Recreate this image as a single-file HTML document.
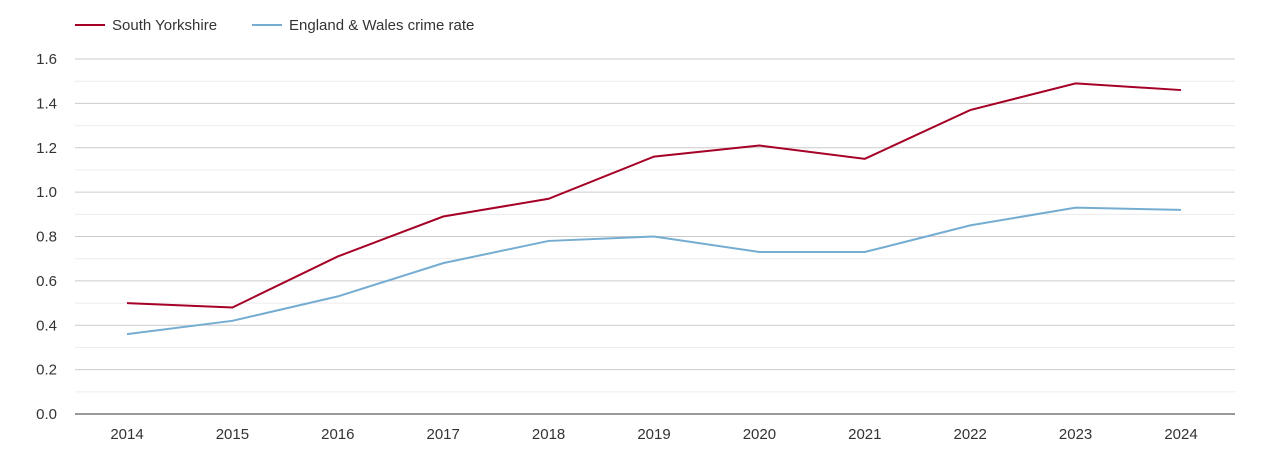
<!DOCTYPE html>
<html><head><meta charset="utf-8"><style>
body{margin:0;background:#fff;font-family:"Liberation Sans",Arial,sans-serif;}
svg text{font-family:"Liberation Sans",Arial,sans-serif;}
</style></head><body>
<svg id="chart" width="1270" height="450" xmlns="http://www.w3.org/2000/svg">
<g id="legend">
<g><line x1="75" y1="25" x2="105" y2="25" stroke="#a50026" stroke-width="2"/><text x="112" y="30" font-size="15" fill="#333">South Yorkshire</text></g>
<g><line x1="252" y1="25" x2="282" y2="25" stroke="#74add1" stroke-width="2"/><text x="289" y="30" font-size="15" fill="#333">England &amp; Wales crime rate</text></g>
</g>
<g id="grid"></g>
<g id="yaxis"></g>
<g id="xaxis"></g>
<g id="series"></g>
</svg>
<script>
const years=[2014,2015,2016,2017,2018,2019,2020,2021,2022,2023,2024];
const southYorkshire=[0.50,0.48,0.71,0.89,0.97,1.16,1.21,1.15,1.37,1.49,1.46];
const englandWales=[0.36,0.42,0.53,0.68,0.78,0.80,0.73,0.73,0.85,0.93,0.92];
const yTicks=[0,0.2,0.4,0.6,0.8,1.0,1.2,1.4,1.6];
const yTickLabels=["0.0","0.2","0.4","0.6","0.8","1.0","1.2","1.4","1.6"];
const NS="http://www.w3.org/2000/svg";
const L=75,R=1235,Y0=414,Y1=59;
const x=i=>127+i*(1181-127)/(years.length-1);
const y=v=>Y0-(v/1.6)*(Y0-Y1);
function mk(t,a,p){const e=document.createElementNS(NS,t);for(const k in a)e.setAttribute(k,a[k]);p.appendChild(e);return e;}
const grid=document.getElementById('grid'),ya=document.getElementById('yaxis'),xa=document.getElementById('xaxis'),se=document.getElementById('series');
for(let k=1;k<16;k+=2){const g=mk('line',{x1:L,x2:R,y1:y(k/10),y2:y(k/10),stroke:'#ececec','stroke-width':1},grid);

}
yTicks.forEach((v,i)=>{
 const g=mk('line',{x1:L,x2:R,y1:y(v),y2:y(v),stroke:v===0?'#333':'#ccc','stroke-width':1},grid);
 
 
 const t=mk('text',{x:57,y:y(v)+5,'font-size':15,fill:'#333','text-anchor':'end'},ya);t.textContent=yTickLabels[i];
 
 
});
years.forEach((yr,i)=>{
 const t=mk('text',{x:x(i),y:439,'font-size':15,fill:'#333','text-anchor':'middle'},xa);t.textContent=yr;
 
 
});
function line(vals,color,name){
 const p=mk('polyline',{points:vals.map((v,i)=>x(i)+','+y(v)).join(' '),fill:'none',stroke:color,'stroke-width':2},se);
 
 
}
line(englandWales,'#74add1','england-wales-line');
line(southYorkshire,'#a50026','south-yorkshire-line');
</script>
</body></html>
